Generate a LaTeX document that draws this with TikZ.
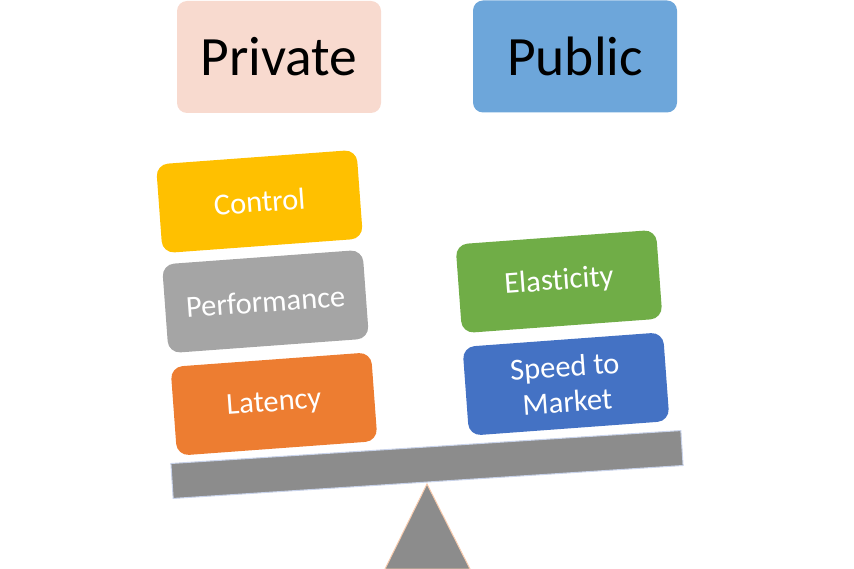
\documentclass[tikz,border=0pt]{standalone}
\usepackage{fontspec}
\setmainfont[Ligatures={NoCommon,NoRequired,NoContextual}]{Carlito}
\definecolor{privfill}{HTML}{F8DACF}
\definecolor{pubfill}{HTML}{6DA6DA}
\definecolor{ctrlfill}{HTML}{FFC000}
\definecolor{perffill}{HTML}{A5A5A5}
\definecolor{latfill}{HTML}{ED7D31}
\definecolor{elafill}{HTML}{70AD47}
\definecolor{spdfill}{HTML}{4472C4}
\definecolor{beamfill}{HTML}{8C8C8C}
\definecolor{beamline}{HTML}{C9D3EA}
\definecolor{triline}{HTML}{F8CBAD}
\tikzset{
  headbox/.style={rounded corners=10pt, minimum width=204pt, minimum height=112pt,
    inner sep=0pt, font=\fontsize{55.5}{60}\selectfont, text=black},
  itembox/.style={rounded corners=12pt, minimum width=201pt, minimum height=89pt,
    inner sep=0pt, rotate=4.2, font=\fontsize{30.5}{35}\selectfont, text=white, align=center},
  beamstyle/.style={fill=beamfill, draw=beamline, line width=1pt, minimum width=511pt,
    minimum height=35pt, inner sep=0pt, rotate=3.7},
  fulcrumstyle/.style={fill=beamfill, draw=triline, line width=1pt}
}
\begin{document}
\begin{tikzpicture}[x=1pt,y=-1pt]
\useasboundingbox (0,0) rectangle (854,569);
\node[headbox, fill=privfill] (private) at (279,57) {Private};
\node[headbox, fill=pubfill] (public) at (575,56.5) {Public};
\node[itembox, fill=ctrlfill] (control) at (259.5,201.5) {Control};
\node[itembox, fill=perffill] (perf) at (265.5,301.5) {Performance};
\node[itembox, fill=latfill] (latency) at (274,404) {Latency};
\node[itembox, fill=elafill] (elastic) at (559,281.5) {Elasticity};
\node[itembox, fill=spdfill] (speed) at (566,384) {Speed to\\Market};
\node[beamstyle] (beam) at (427,464.5) {};
\coordinate (apex) at (427,484);
\coordinate (baseL) at (385,569);
\coordinate (baseR) at (470,569);
\draw[fulcrumstyle] (apex) -- (baseR) -- (baseL) -- cycle;
\end{tikzpicture}
\end{document}
